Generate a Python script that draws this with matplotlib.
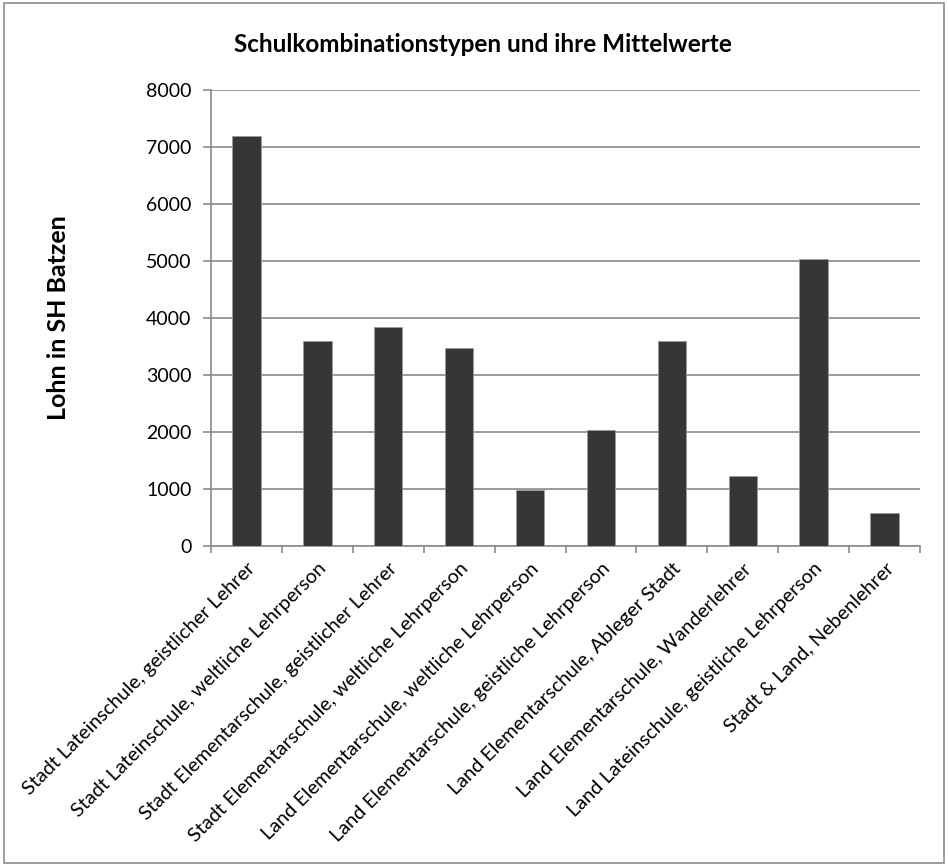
import matplotlib
matplotlib.use("Agg")
import matplotlib.pyplot as plt
from matplotlib.patches import Rectangle
import numpy as np

categories = [
    "Stadt Lateinschule, geistlicher Lehrer",
    "Stadt Lateinschule, weltliche Lehrperson",
    "Stadt Elementarschule, geistlicher Lehrer",
    "Stadt Elementarschule, weltliche Lehrperson",
    "Land Elementarschule, weltliche Lehrperson",
    "Land Elementarschule, geistliche Lehrperson",
    "Land Elementarschule, Ableger Stadt",
    "Land Elementarschule, Wanderlehrer",
    "Land Lateinschule, geistliche Lehrperson",
    "Stadt & Land, Nebenlehrer",
]
values = [7200, 3600, 3840, 3475, 980, 2040, 3605, 1228, 5030, 580]
yticks = [0, 1000, 2000, 3000, 4000, 5000, 6000, 7000, 8000]
title = "Schulkombinationstypen und ihre Mittelwerte"
ylabel = "Lohn in SH Batzen"

plt.rcParams['font.family'] = ['Lato', 'DejaVu Sans']

fig = plt.figure(figsize=(9.48, 8.66), dpi=100)
fig.patches.append(Rectangle((0.004, 0.004), 0.992, 0.992, transform=fig.transFigure,
                             fill=False, edgecolor='#8c8c8c', linewidth=1.2))
ax = fig.add_axes([211/948, 1-546/866, (920-211)/948, (546-90)/866])

x = np.arange(len(categories))
ax.bar(x, values, width=0.4, color='#363636', edgecolor='#9a9a9a', linewidth=0.6, zorder=3)
ax.set_xlim(-0.5, len(categories) - 0.5)
ax.set_ylim(0, 8000)
ax.set_yticks(yticks)
ax.set_yticklabels([str(v) for v in yticks], fontsize=14)
ax.yaxis.grid(True, color='#8a8a8a', linewidth=1.2, zorder=0)
ax.set_axisbelow(True)

for s in ['top', 'right']:
    ax.spines[s].set_visible(False)
for s in ['left', 'bottom']:
    ax.spines[s].set_color('#8a8a8a')
    ax.spines[s].set_linewidth(1.2)

ax.tick_params(axis='y', length=6, color='#8a8a8a', width=1.2, pad=8)
ax.set_xticks(np.arange(len(categories) + 1) - 0.5, minor=False)
ax.set_xticklabels([])
ax.tick_params(axis='x', length=5, color='#8a8a8a', width=1.2)
ax.set_xticks(x, minor=True)
ax.set_xticklabels(categories, minor=True, rotation=45, ha='right',
                   rotation_mode='anchor', fontsize=14.3)
ax.tick_params(axis='x', which='minor', length=0, pad=10)

fig.text(483/948, 1 - 45/866, title, ha='center', va='center',
         fontsize=17.5, fontweight='bold')
fig.text(58/948, 1 - 318/866, ylabel, ha='center', va='center', rotation=90,
         fontsize=18, fontweight='bold')

fig.savefig("out.png", dpi=100)
